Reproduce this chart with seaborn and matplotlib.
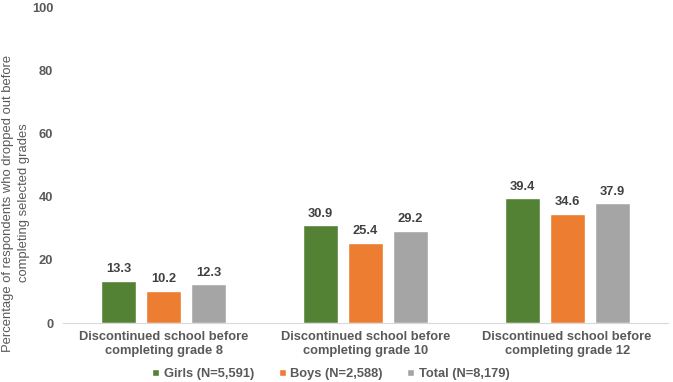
import matplotlib
matplotlib.use("Agg")
import matplotlib.pyplot as plt
import seaborn as sns
import pandas as pd

categories = ["Discontinued school before\ncompleting grade 8",
              "Discontinued school before\ncompleting grade 10",
              "Discontinued school before\ncompleting grade 12"]
groups = ["Girls (N=5,591)", "Boys (N=2,588)", "Total (N=8,179)"]
girls = [13.3, 30.9, 39.4]
boys = [10.2, 25.4, 34.6]
total = [12.3, 29.2, 37.9]
colors = ["#548235", "#ED7D31", "#A5A5A5"]


def main():
    rows = []
    for name, vals in zip(groups, [girls, boys, total]):
        for cat, v in zip(categories, vals):
            rows.append([cat, name, v])
    df = pd.DataFrame.from_records(rows, columns=["Category", "Group", "Value"])

    sns.set_style("white")
    plt.rcParams['font.family'] = ['Liberation Sans', 'DejaVu Sans']

    fig = plt.figure(figsize=(6.73, 3.82), dpi=100)
    ax = fig.add_axes([63 / 673, 1 - 323 / 382, 605 / 673, 316 / 382])

    sns.barplot(x="Category", y="Value", hue="Group", data=df, ax=ax,
                palette=colors, width=0.67, gap=0.22, saturation=1)

    fs = 9.3
    txt = "#595959"
    for cont in ax.containers:
        ax.bar_label(cont, fmt="%.1f", padding=4, fontsize=fs,
                     fontweight="bold", color="#404040")

    ax.set_ylim(0, 100)
    ax.set_yticks([0, 20, 40, 60, 80, 100])
    ax.set_xlabel("")
    ax.set_ylabel("")
    fig.text(16 / 673, 1 - 203 / 382,
             "Percentage of respondents who dropped out before\ncompleting selected grades",
             rotation=90, ha="center", va="center", multialignment="center",
             fontsize=9.4, color=txt, linespacing=1.45)
    ax.tick_params(axis="y", length=0, pad=7, labelsize=fs, labelcolor=txt)
    ax.tick_params(axis="x", length=0, pad=6, labelsize=fs, labelcolor=txt)
    for lab in ax.get_yticklabels() + ax.get_xticklabels():
        lab.set_fontweight("bold")

    for s in ["top", "right", "left"]:
        ax.spines[s].set_visible(False)
    ax.spines["bottom"].set_color("#D9D9D9")

    leg = ax.legend(loc="center", bbox_to_anchor=((331 - 63) / 605, (323 - 374) / 316),
                    ncol=3, frameon=False, fontsize=fs, handlelength=0.55,
                    handleheight=0.55, handletextpad=0.35, columnspacing=1.9)
    for t in leg.get_texts():
        t.set_color(txt)
        t.set_fontweight("bold")

    fig.savefig("out.png", dpi=100)


if __name__ == '__main__':
    main()
